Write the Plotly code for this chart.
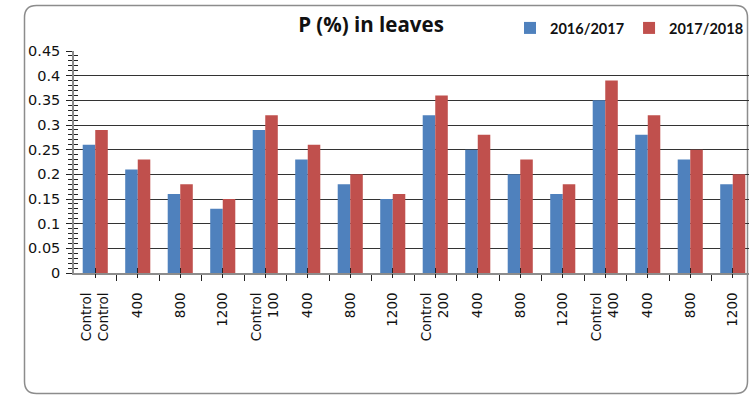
import plotly.graph_objects as go

# ---- data ----
tick_labels = ["Control<br>Control", "400", "800", "1200",
               "Control<br>100", "400", "800", "1200",
               "Control<br>200", "400", "800", "1200",
               "Control<br>400", "400", "800", "1200"]
s2016 = [0.26, 0.21, 0.16, 0.13, 0.29, 0.23, 0.18, 0.15,
         0.32, 0.25, 0.20, 0.16, 0.35, 0.28, 0.23, 0.18]
s2017 = [0.29, 0.23, 0.18, 0.15, 0.32, 0.26, 0.20, 0.16,
         0.36, 0.28, 0.23, 0.18, 0.39, 0.32, 0.25, 0.20]
series_names = ["<b>2016/2017</b>", "<b>2017/2018</b>"]
positions = list(range(len(tick_labels)))

W, H = 749, 395
L, R, T, B = 74, 0, 51, 122
TICKFONT = "DejaVu Sans"

fig = go.Figure()
fig.add_trace(go.Bar(x=positions, y=s2016, name=series_names[0],
                     marker=dict(color="#4F81BD", line=dict(width=0))))
fig.add_trace(go.Bar(x=positions, y=s2017, name=series_names[1],
                     marker=dict(color="#C0504D", line=dict(width=0))))

# frame (rounded rectangle) in pixel -> paper coords
pw, ph = W - L - R, H - T - B
def px(x): return (x - L) / pw
def py(y): return (H - B - y) / ph
x0, y0, x1, y1, r = 24.5, 5.5, 747.5, 393.5, 12
path = (f"M {px(x0+r)},{py(y0)} L {px(x1-r)},{py(y0)} Q {px(x1)},{py(y0)} {px(x1)},{py(y0+r)} "
        f"L {px(x1)},{py(y1-r)} Q {px(x1)},{py(y1)} {px(x1-r)},{py(y1)} "
        f"L {px(x0+r)},{py(y1)} Q {px(x0)},{py(y1)} {px(x0)},{py(y1-r)} "
        f"L {px(x0)},{py(y0+r)} Q {px(x0)},{py(y0)} {px(x0+r)},{py(y0)} Z")

n = len(tick_labels)
xr = [-0.5, -0.5 + pw / 42.5]

fig.update_layout(
    width=W, height=H,
    margin=dict(l=L, r=R, t=T, b=B),
    paper_bgcolor="white", plot_bgcolor="white",
    font=dict(family=TICKFONT, size=13, color="#222"),
    barmode="group", bargap=0.41, bargroupgap=0,
    title=dict(text="<b>P (%) in leaves</b>", x=371 / W, xanchor="center",
               xref="container", y=1 - 25 / H, yanchor="middle", yref="container",
               font=dict(size=20.5, color="#111", family="Open Sans")),
    legend=dict(orientation="h", x=(510 - L) / pw, xanchor="left",
                y=1 + (51 - 28) / ph, yanchor="middle",
                font=dict(size=14.5, color="#111", family="Lato"),
                itemwidth=30, tracegroupgap=0, bgcolor="rgba(0,0,0,0)"),
    shapes=[dict(type="path", path=path, xref="paper", yref="paper",
                 line=dict(color="#8c8c8c", width=1.5), layer="below")],
    xaxis=dict(range=xr, tickmode="array", tickvals=positions, ticktext=tick_labels,
               tickangle=-90, ticks="inside", ticklen=5, tickcolor="#222",
               showline=True, linecolor="#8c8c8c", linewidth=2,
               showgrid=False, zeroline=False, ticklabelstandoff=12,
               tickfont=dict(size=13.5, color="#111", family=TICKFONT),
               minor=dict(tickmode="array", tickvals=[p - 0.5 for p in positions] + [n - 0.5],
                          ticks="outside", ticklen=6, tickcolor="#222")),
    xaxis2=dict(range=xr, overlaying="x", side="bottom", anchor="y",
                tickmode="array", tickvals=positions, showticklabels=False,
                ticks="outside", ticklen=4, tickcolor="#222",
                showline=False, showgrid=False, zeroline=False),
    yaxis=dict(range=[0, 0.45], dtick=0.05, tickformat="~g",
               ticks="outside", ticklen=6, tickcolor="#222",
               showline=True, linecolor="#8c8c8c", linewidth=1.5,
               showgrid=True, gridcolor="#333", gridwidth=1, zeroline=False,
               tickfont=dict(size=14.5, color="#111", family=TICKFONT), ticklabelstandoff=3,
               minor=dict(dtick=0.01, ticks="outside", ticklen=4, tickcolor="#222",
                          showgrid=False)),
    yaxis2=dict(range=[0, 0.45], overlaying="y", side="left", anchor="x",
                dtick=0.05, showticklabels=False, ticks="inside", ticklen=4,
                tickcolor="#222", showgrid=False, zeroline=False, showline=False,
                minor=dict(dtick=0.01, ticks="inside", ticklen=4, tickcolor="#222",
                           showgrid=False)),
)
# invisible trace to activate overlay axes
fig.add_trace(go.Scatter(x=[0], y=[0], xaxis="x2", yaxis="y2", mode="markers",
                         marker=dict(opacity=0), showlegend=False, hoverinfo="skip"))

fig.write_html("out.html")
